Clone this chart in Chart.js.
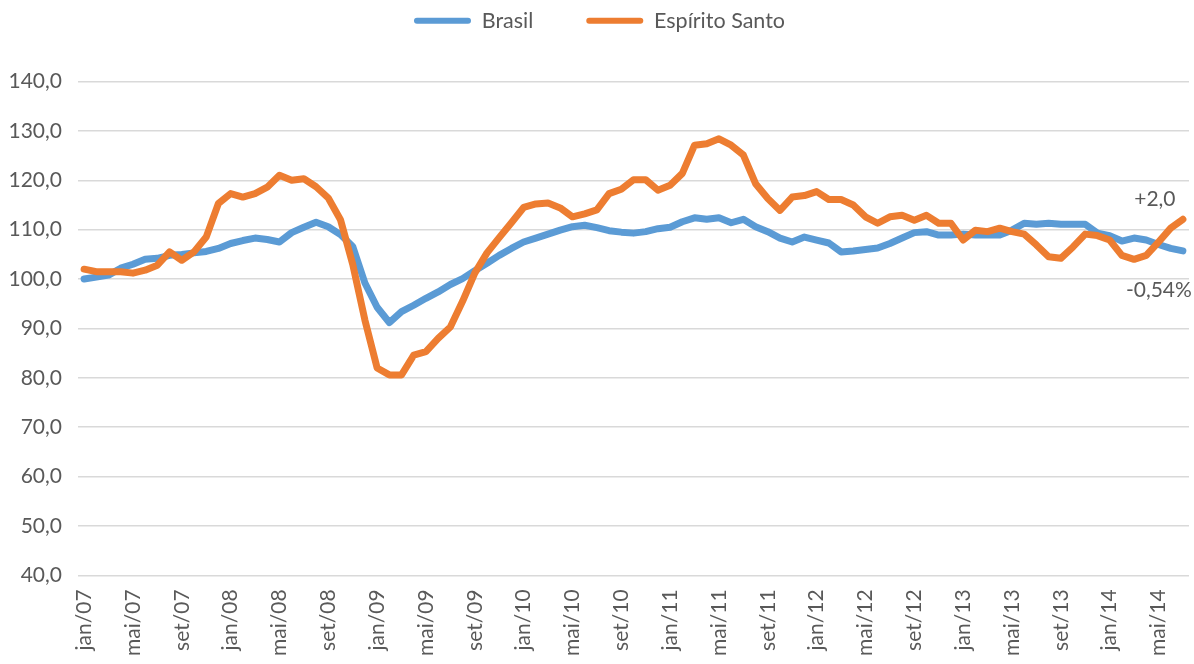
<!DOCTYPE html>
<html>
<head>
<meta charset="utf-8">
<script src="https://cdn.jsdelivr.net/npm/chart.js@4/dist/chart.umd.min.js"></script>
<style>
  html, body { margin: 0; padding: 0; background: #fff; }
  #wrap { width: 1194px; height: 664px; }
</style>
</head>
<body>
<div id="wrap"><canvas id="indiceChart"></canvas></div>
<script>
const monthNames = ['jan', 'fev', 'mar', 'abr', 'mai', 'jun', 'jul', 'ago', 'set', 'out', 'nov', 'dez'];
const years = ['07', '08', '09', '10', '11', '12', '13', '14'];
const lastMonthCount = 7; // 2014 ends in jul

const brasil = [
    100.0, 100.4, 100.8, 102.2, 103.0, 104.0, 104.2, 104.8, 105.0, 105.3,
    105.6, 106.2, 107.2, 107.8, 108.3, 108.0, 107.5, 109.4, 110.5, 111.5,
    110.6, 109.0, 106.6, 99.2, 94.3, 91.2, 93.4, 94.7, 96.1, 97.4,
    98.9, 100.1, 101.7, 103.2, 104.8, 106.2, 107.5, 108.3, 109.1, 109.9,
    110.6, 110.9, 110.4, 109.8, 109.5, 109.3, 109.6, 110.2, 110.5, 111.6,
    112.4, 112.1, 112.4, 111.4, 112.1, 110.6, 109.6, 108.3, 107.5, 108.5,
    107.9, 107.3, 105.5, 105.7, 106.0, 106.3, 107.2, 108.3, 109.4, 109.6,
    108.9, 108.9, 109.1, 108.9, 108.9, 108.9, 109.9, 111.3, 111.1, 111.3,
    111.1, 111.1, 111.1, 109.3, 108.8, 107.7, 108.3, 107.9, 107.0, 106.2,
    105.7
];

const espiritoSanto = [
    102.0, 101.5, 101.5, 101.5, 101.2, 101.8, 102.8, 105.5, 103.8, 105.5,
    108.5, 115.3, 117.3, 116.6, 117.3, 118.6, 121.0, 120.0, 120.3, 118.7,
    116.4, 112.0, 103.0, 91.7, 82.0, 80.6, 80.6, 84.6, 85.3, 88.0,
    90.3, 95.5, 101.2, 105.3, 108.4, 111.4, 114.5, 115.2, 115.4, 114.4,
    112.6, 113.2, 114.0, 117.3, 118.2, 120.1, 120.1, 118.0, 119.0, 121.4,
    127.1, 127.4, 128.4, 127.1, 125.1, 119.3, 116.3, 113.9, 116.6, 116.9,
    117.7, 116.1, 116.1, 115.0, 112.6, 111.3, 112.6, 112.9, 111.9, 112.9,
    111.3, 111.3, 107.9, 109.9, 109.6, 110.3, 109.6, 109.1, 106.9, 104.5,
    104.2, 106.5, 109.1, 108.8, 107.9, 104.8, 104.0, 104.8, 107.5, 110.3,
    112.1
];

const endLabels = [
    { text: '+2,0', dataset: 1, dx: -28, dy: -20 },
    { text: '-0,54%', dataset: 0, dx: -24, dy: 39 },
];

const labels = [];
years.forEach((yy, yi) => {
    const count = yi === years.length - 1 ? lastMonthCount : 12;
    for (let m = 0; m < count; m++) labels.push(monthNames[m] + '/' + yy);
});

const textColor = '#595959';
const gridColor = '#d9d9d9';
const fontFamily = 'Lato, "Open Sans", sans-serif';

const legendSpacing = {
    id: 'legendSpacing',
    beforeInit(chart) {
        const originalFit = chart.legend.fit;
        chart.legend.fit = function fit() {
            originalFit.bind(chart.legend)();
            this.height += 40;
        };
    },
};

const endLabelPlugin = {
    id: 'endLabels',
    afterDatasetsDraw(chart) {
        const { ctx, scales } = chart;
        ctx.save();
        ctx.font = '21px ' + fontFamily;
        ctx.fillStyle = textColor;
        ctx.textAlign = 'center';
        ctx.textBaseline = 'middle';
        endLabels.forEach(item => {
            const data = chart.data.datasets[item.dataset].data;
            const idx = data.length - 1;
            const x = scales.x.getPixelForValue(idx);
            const y = scales.y.getPixelForValue(data[idx]);
            ctx.fillText(item.text, x + item.dx, y + item.dy);
        });
        ctx.restore();
    },
};

Chart.defaults.font.family = fontFamily;
Chart.defaults.font.size = 21;
Chart.defaults.color = textColor;

new Chart(document.getElementById('indiceChart'), {
    type: 'line',
    data: {
        labels,
        datasets: [
            {
                label: 'Brasil',
                data: brasil,
                borderColor: '#5b9bd5',
                backgroundColor: '#5b9bd5',
                borderWidth: 7,
                pointRadius: 0,
                tension: 0,
                borderJoinStyle: 'round',
                borderCapStyle: 'round',
                order: 1,
            },
            {
                label: 'Espírito Santo',
                data: espiritoSanto,
                borderColor: '#ed7d31',
                backgroundColor: '#ed7d31',
                borderWidth: 7,
                pointRadius: 0,
                tension: 0,
                borderJoinStyle: 'round',
                borderCapStyle: 'round',
                order: 0,
            },
        ],
    },
    options: {
        responsive: true,
        maintainAspectRatio: false,
        animation: false,
        layout: {
            padding: { left: 10, right: 5, top: 0, bottom: 2 },
        },
        plugins: {
            legend: {
                position: 'top',
                labels: {
                    boxWidth: 57,
                    boxHeight: 6,
                    useBorderRadius: true,
                    borderRadius: 3,
                    padding: 10,
                    color: textColor,
                    font: { size: 21.5 },
                    sort: (a, b) => a.datasetIndex - b.datasetIndex,
                    generateLabels(chart) {
                        const items = Chart.defaults.plugins.legend.labels.generateLabels(chart);
                        return items.map(item => ({
                            ...item,
                            lineWidth: 0,
                            text: item.datasetIndex === 0 ? item.text + '\u2003\u2003\u2002' : item.text,
                        }));
                    },
                },
            },
            tooltip: { enabled: false },
        },
        scales: {
            x: {
                offset: true,
                grid: { display: false },
                border: { display: false },
                afterFit(scale) {
                    scale.paddingLeft = 0;
                    scale.paddingRight = 0;
                },
                ticks: {
                    autoSkip: false,
                    maxRotation: 90,
                    minRotation: 90,
                    padding: 6,
                    color: textColor,
                    callback: function(value, index) {
                        return index % 4 === 0 ? this.getLabelForValue(value) : '';
                    },
                },
            },
            y: {
                min: 40,
                max: 140,
                border: { display: false },
                grid: { color: gridColor, lineWidth: 1.5, drawTicks: false },
                afterFit(scale) {
                    scale.width = 68;
                },
                ticks: {
                    stepSize: 10,
                    padding: 16,
                    color: textColor,
                    callback: value => value.toFixed(1).replace('.', ','),
                },
            },
        },
    },
    plugins: [legendSpacing, endLabelPlugin],
});
</script>
</body>
</html>
